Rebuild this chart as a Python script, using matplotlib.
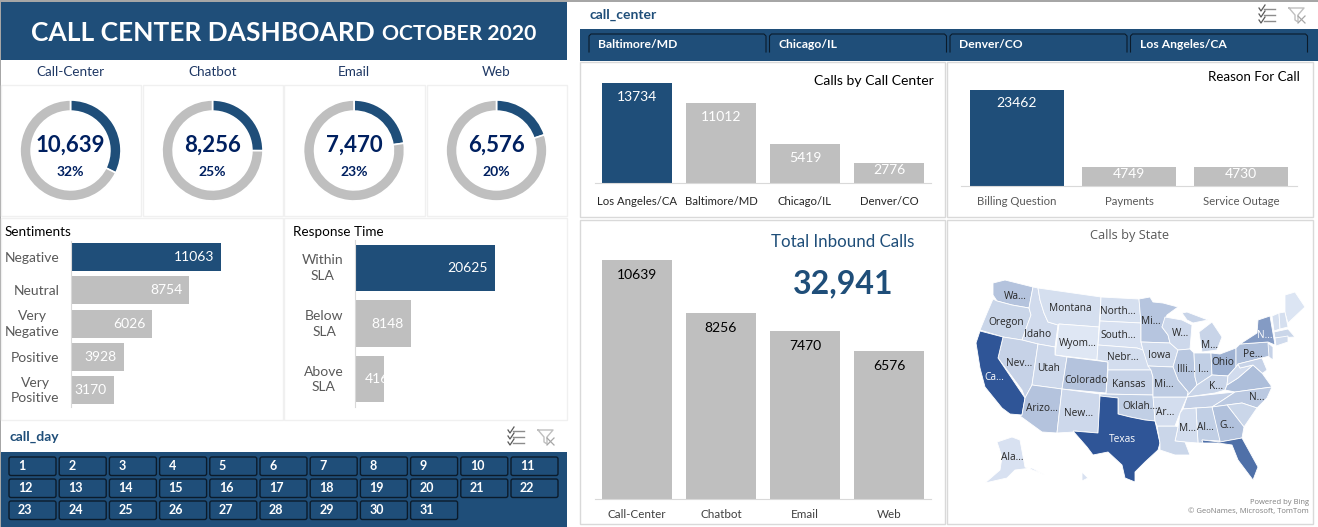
#!/usr/bin/env python3
# call center dashboard, october 2020

import matplotlib
matplotlib.use("Agg")
import matplotlib.pyplot as plt
from matplotlib.colors import LinearSegmentedColormap, Normalize
from matplotlib.patches import Rectangle, FancyBboxPatch
from matplotlib.transforms import ScaledTranslation

plt.rcParams['font.family'] = ['Lato', 'DejaVu Sans']

### data

channels = ["Call-Center", "Chatbot", "Email", "Web"]
channel_calls = [10639, 8256, 7470, 6576]
total_calls = sum(channel_calls)

sentiments = ["Negative", "Neutral", "Very\nNegative", "Positive", "Very\nPositive"]
sentiment_calls = [11063, 8754, 6026, 3928, 3170]

response = ["Within\nSLA", "Below\nSLA", "Above\nSLA"]
response_calls = [20625, 8148, 4168]

centers = ["Los Angeles/CA", "Baltimore/MD", "Chicago/IL", "Denver/CO"]
center_calls = [13734, 11012, 5419, 2776]

reasons = ["Billing Question", "Payments", "Service Outage"]
reason_calls = [23462, 4749, 4730]

slicer_centers = ["Baltimore/MD", "Chicago/IL", "Denver/CO", "Los Angeles/CA"]
days = list(range(1, 32))

# shade of each state
state_calls = {
    "WA": 1000, "OR": 500, "CA": 4000, "NV": 600, "ID": 350, "MT": 250, "WY": 40,
    "UT": 450, "CO": 1000, "AZ": 1000, "NM": 450, "ND": 250, "SD": 200, "NE": 300,
    "KS": 600, "OK": 700, "TX": 4000, "MN": 950, "IA": 400, "MO": 800, "AR": 300,
    "LA": 500, "WI": 450, "IL": 900, "IN": 700, "MI": 550, "UP": 550, "OH": 1450,
    "KY": 550, "TN": 650, "MS": 300, "AL": 700, "GA": 1050, "FL": 3280, "SC": 500,
    "NC": 850, "VA": 1150, "WV": 350, "PA": 1150, "NY": 2080, "ME": 100, "VT": 250,
    "NH": 250, "MA": 500, "CT": 400, "NJ": 600, "MD": 600, "AK": 200, "HI": 200,
}

# rough state outlines, same frame as the map axes
state_shapes = {
    "WA": [(993,283),(1005,280),(1033,287),(1029,308),(1012,305),(997,301),(993,295)],
    "OR": [(993,299),(997,301),(1012,305),(1029,308),(1031,315),(1022,340),(1003,337),(980,330),(987,313)],
    "ID": [(1033,287),(1038,288),(1040,300),(1044,313),(1048,322),(1058,325),(1055,347),(1038,344),(1022,340),(1031,315),(1029,308)],
    "MT": [(1038,288),(1101,297),(1099,327),(1059,324),(1058,325),(1048,322),(1044,313),(1040,300)],
    "WY": [(1059,324),(1099,327),(1097,360),(1055,355)],
    "NV": [(1003,337),(1022,340),(1038,344),(1032,385),(1025,398),(1022,390),(998,358)],
    "CA": [(980,331),(1003,337),(998,358),(1025,398),(1022,415),(1010,414),(1002,408),(985,387),(980,368),(976,343)],
    "UT": [(1038,344),(1055,347),(1055,355),(1067,357),(1062,389),(1032,385)],
    "CO": [(1067,357),(1108,362),(1106,393),(1062,389)],
    "AZ": [(1032,385),(1062,389),(1057,433),(1042,432),(1020,416),(1022,415),(1025,398)],
    "NM": [(1062,389),(1100,394),(1098,433),(1075,431),(1074,432),(1057,433)],
    "ND": [(1101,297),(1139,299),(1141,323),(1100,321)],
    "SD": [(1100,321),(1141,323),(1141,342),(1143,350),(1137,348),(1098,345)],
    "NE": [(1098,345),(1137,348),(1143,350),(1147,360),(1151,370),(1108,370),(1108,362),(1097,360)],
    "KS": [(1108,370),(1151,370),(1153,377),(1153,395),(1106,394)],
    "OK": [(1100,394),(1153,395),(1154,405),(1155,421),(1145,420),(1130,417),(1118,414),(1118,398),(1100,396)],
    "TX": [(1100,396),(1118,398),(1118,414),(1130,417),(1145,420),(1155,421),(1160,443),(1158,450),(1145,462),
           (1135,472),(1135,482),(1125,478),(1122,465),(1108,452),(1093,455),(1087,447),(1073,431),(1098,433)],
    "MN": [(1139,299),(1150,297),(1153,302),(1163,303),(1178,307),(1167,315),(1162,327),(1168,335),(1170,343),(1141,342),(1141,323)],
    "IA": [(1141,342),(1170,343),(1178,350),(1173,367),(1148,366),(1143,350)],
    "WI": [(1162,327),(1165,317),(1182,320),(1192,325),(1190,349),(1178,350),(1170,343),(1168,335)],
    "IL": [(1178,350),(1190,349),(1194,353),(1195,377),(1197,385),(1188,395),(1188,392),(1178,380),(1173,367)],
    "IN": [(1194,353),(1211,353),(1212,375),(1197,385),(1195,377)],
    "OH": [(1211,353),(1220,354),(1236,348),(1236,367),(1228,376),(1212,375)],
    "MI": [(1199,332),(1212,322),(1222,337),(1217,350),(1202,352)],
    "UP": [(1182,313),(1187,312),(1208,320),(1193,323),(1187,320)],
    "KY": [(1188,395),(1197,385),(1212,375),(1228,376),(1227,385),(1225,390),(1215,393),(1187,397)],
    "TN": [(1187,397),(1235,392),(1223,400),(1212,407),(1196,408),(1183,409)],
    "VA": [(1225,390),(1227,385),(1238,378),(1253,365),(1262,373),(1272,387),(1235,392)],
    "WV": [(1228,376),(1236,367),(1238,364),(1240,368),(1253,365),(1238,378),(1227,385)],
    "PA": [(1236,348),(1240,344),(1268,342),(1273,355),(1262,358),(1238,364),(1236,367)],
    "NY": [(1240,344),(1257,333),(1258,320),(1270,316),(1275,345),(1268,342)],
    "ME": [(1285,295),(1295,292),(1305,307),(1288,323),(1285,313)],
    "VT": [(1272,316),(1279,313),(1280,329),(1274,331)],
    "NH": [(1279,313),(1285,312),(1288,327),(1280,329)],
    "MA": [(1274,332),(1288,329),(1295,337),(1275,338)],
    "CT": [(1275,338),(1288,336),(1288,342),(1276,346)],
    "NJ": [(1268,343),(1273,347),(1273,360),(1269,357)],
    "MD": [(1238,364),(1262,358),(1267,370),(1263,373),(1262,373),(1253,365),(1240,368)],
    "NC": [(1223,400),(1235,392),(1272,387),(1267,398),(1257,408),(1242,403),(1227,405),(1212,407)],
    "SC": [(1227,405),(1242,403),(1257,408),(1244,427)],
    "GA": [(1212,407),(1227,405),(1244,427),(1242,438),(1220,442),(1219,440)],
    "AL": [(1196,408),(1212,407),(1220,441),(1202,440),(1203,443),(1198,443)],
    "MS": [(1180,413),(1183,409),(1196,408),(1198,443),(1185,442),(1175,441),(1178,427)],
    "LA": [(1157,426),(1175,426),(1178,427),(1175,441),(1185,442),(1190,455),(1175,455),(1160,450),(1160,443)],
    "AR": [(1153,397),(1187,397),(1180,413),(1175,426),(1157,426),(1155,421)],
    "MO": [(1148,366),(1173,367),(1178,380),(1188,392),(1187,397),(1153,397),(1153,377),(1151,370)],
    "FL": [(1202,440),(1220,442),(1242,438),(1258,467),(1253,480),(1238,460),(1232,445),(1218,443),(1203,443)],
    "AK": [(997,442),(1012,437),(1020,440),(1025,467),(1045,475),(1032,468),(1015,470),(1007,478),(985,483),(1000,470),(1002,457)],
    "HI": [(1082,472),(1088,478),(1082,481)],
}

state_labels = [
    ("Wa...", 1015, 296), ("Oregon", 1006, 322), ("Idaho", 1038, 334), ("Montana", 1070, 308),
    ("North...", 1118, 311), ("South...", 1118, 335), ("Wyom...", 1078, 343), ("Nebr...", 1123, 357),
    ("Nev...", 1019, 363), ("Utah", 1049, 368), ("Colorado", 1086, 380), ("Kansas", 1129, 384),
    ("Arizo...", 1042, 408), ("New...", 1079, 413), ("Oklah...", 1140, 406), ("Ala...", 1012, 457),
    ("Mi...", 1151, 321), ("W...", 1180, 333), ("M...", 1210, 345), ("Iowa", 1159, 355),
    ("Illi...", 1186, 369), ("I...", 1203, 369), ("Ohio", 1223, 362), ("Pe...", 1253, 354),
    ("Mi...", 1164, 384), ("K...", 1216, 386), ("N...", 1257, 397), ("Ar...", 1165, 412),
    ("M...", 1187, 428), ("Al...", 1205, 427), ("G...", 1227, 425),
]
state_labels_white = [("Ca...", 994, 377), ("Texas", 1122, 439), ("N...", 1265, 335)]

### style

BLUE = "#1F4E79"
GREY = "#BFBFBF"
NAVY = "#002060"
LINE = "#D9D9D9"
W, H = 1318, 527

fig = plt.figure(figsize=(W / 100, H / 100), dpi=100, facecolor="white")

# background layer in pixels, for frames, bands and free text
bg = fig.add_axes([0, 0, 1, 1])
bg.set_xlim(0, W)
bg.set_ylim(H, 0)
bg.axis("off")


def px_axes(x0, y0, x1, y1):
    ax = fig.add_axes([x0 / W, 1 - y1 / H, (x1 - x0) / W, (y1 - y0) / H])
    ax.patch.set_alpha(0)
    return ax


def box(x0, y0, x1, y1, fc="none", ec="none", lw=1.0):
    bg.add_patch(Rectangle((x0, y0), x1 - x0, y1 - y0, facecolor=fc, edgecolor=ec, linewidth=lw))


def icons(x, y):
    # select-all icon, then clear-filter icon
    for k, yy in enumerate([y - 6, y, y + 6]):
        bg.plot([x - 3, x + 8], [yy, yy], color="#8C8C8C", lw=1)
        bg.plot([x - 8, x - 6, x - 2], [yy - 1, yy + 2, yy - 4], color="#595959", lw=0.9)
    fx = x + 30
    bg.plot([fx - 8, fx + 7, fx + 1, fx + 1, fx - 2, fx - 2, fx - 8], [y - 7, y - 7, y, y + 7, y + 5, y, y - 7],
            color="#BFBFBF", lw=1)
    bg.plot([fx + 1, fx + 8], [y + 1, y + 8], color="#A6A6A6", lw=0.9)
    bg.plot([fx + 1, fx + 8], [y + 8, y + 1], color="#A6A6A6", lw=0.9)


def hbars(ax, labels, values, xmax, pad_px):
    pos = list(range(len(values)))
    colors = [BLUE] + [GREY] * (len(values) - 1)
    ax.barh(pos, values, height=0.84, color=colors)
    ax.set_ylim(len(values) - 0.5, -0.5)
    ax.set_xlim(0, xmax)
    ax.set_yticks(pos, labels, color="#595959", fontsize=10, linespacing=1.35, multialignment="center")
    ax.tick_params(axis="y", length=0, pad=pad_px * 0.72)
    ax.set_xticks([])
    for s in ["top", "right", "bottom"]:
        ax.spines[s].set_visible(False)
    ax.spines["left"].set_color(LINE)
    # two-line labels sit a little higher than the bar centre
    lift = ScaledTranslation(0, 2.5 / 100, fig.dpi_scale_trans)
    for lab in ax.get_yticklabels():
        if "\n" in lab.get_text():
            lab.set_transform(lab.get_transform() + lift)


def vbars(ax, labels, values, ymax, colors, label_color, label_px, tick_color, tick_size, tick_pad):
    pos = list(range(len(values)))
    ax.bar(pos, values, width=0.835, color=colors)
    ax.set_xlim(-0.5, len(values) - 0.5)
    ax.set_ylim(0, ymax)
    ax.set_xticks(pos, labels, color=tick_color, fontsize=tick_size)
    ax.tick_params(axis="x", length=0, pad=tick_pad)
    ax.set_yticks([])
    for s in ["top", "right", "left"]:
        ax.spines[s].set_visible(False)
    ax.spines["bottom"].set_color(LINE)
    axes_px = ax.get_position().height * H
    for p, v in zip(pos, values):
        # short bars push the label up against their top
        drop = min(label_px, 0.36 * v / ymax * axes_px)
        ax.annotate(str(v), (p, v), xytext=(0, -drop * 0.72), textcoords="offset points",
                    ha="center", va="center", color=label_color, fontsize=10)


### frames and header

box(0, 0, 1, H, fc="#A6A6A6")
box(0, 0, W, 1.5, fc="#A6A6A6")
box(1, 2, 567, 60, fc=BLUE)
bg.text(31, 33, "CALL CENTER DASHBOARD", color="white", fontsize=19, fontweight="bold", va="center")
bg.text(382, 34, "OCTOBER 2020", color="white", fontsize=15.2, fontweight="bold", va="center")

for x0, x1 in [(1, 141), (143, 283), (284, 425), (427, 567)]:
    box(x0, 85, x1, 216, ec="#F0F0F0")
box(1, 218, 283, 420, ec="#F0F0F0")
box(284, 218, 567, 420, ec="#F0F0F0")
box(580, 62, 945, 217, ec=LINE)
box(947, 62, 1313, 217, ec=LINE)
box(580, 220, 945, 524, ec=LINE)
box(947, 220, 1313, 524, ec=LINE)

### donuts

donut_x = [70.5, 212.5, 354, 496.5]
for name, calls, cx in zip(channels, channel_calls, donut_x):
    bg.text(cx, 71.5, name, color="#1F3864", fontsize=9.7, ha="center", va="center")
    ax = px_axes(cx - 51, 150.5 - 51, cx + 51, 150.5 + 51)
    ax.pie([calls, total_calls - calls], colors=[BLUE, GREY], startangle=90, counterclock=False,
           wedgeprops=dict(width=0.22, edgecolor="white", linewidth=1.2))
    ax.set_xlim(-1.01, 1.01)
    ax.set_ylim(-1.01, 1.01)
    bg.text(cx, 145.5, f"{calls:,}", color=NAVY, fontsize=16, fontweight="bold", ha="center", va="center")
    bg.text(cx, 172, f"{calls / total_calls:.0%}", color=NAVY, fontsize=10, fontweight="bold", ha="center", va="center")

### sentiments

bg.text(5, 231.5, "Sentiments", color="black", fontsize=9.7, va="center")
ax = px_axes(70.5, 240.5, 280, 406.8)
hbars(ax, sentiments, sentiment_calls, 15413, 11)
for i, v in enumerate(sentiment_calls):
    ax.annotate(str(v), (v, i), xytext=(-5, 0), textcoords="offset points", ha="right", va="center",
                color="white", fontsize=10)

### response time

bg.text(293, 231.5, "Response Time", color="black", fontsize=9.7, va="center")
ax = px_axes(355.5, 240.2, 565, 406.8)
hbars(ax, response, response_calls, 31000, 12)
for i, v in enumerate(response_calls):
    # the last label does not fit the bar and runs out on the white
    if i == 2:
        ax.annotate(str(v), (0, i), xytext=(6.5, 0), textcoords="offset points", ha="left", va="center",
                    color="white", fontsize=10)
    else:
        ax.annotate(str(v), (v, i), xytext=(-5, 0), textcoords="offset points", ha="right", va="center",
                    color="white", fontsize=10)

### call_day slicer

bg.text(9, 437, "call_day", color=BLUE, fontsize=10, fontweight="bold", va="center")
icons(516, 437)
box(1, 452, 567, H, fc=BLUE)
for d in days:
    row, col = (d - 1) // 11, (d - 1) % 11
    x0 = 9 + col * 50.2
    y0 = 457 + row * 22
    bg.add_patch(FancyBboxPatch((x0, y0), 47, 18.5, boxstyle="round,pad=0,rounding_size=2",
                                facecolor=BLUE, edgecolor="#0B1B2B", linewidth=1))
    bg.text(x0 + 9, y0 + 9.5, str(d), color="white", fontsize=9, fontweight="bold", va="center")

### call_center slicer

bg.text(589, 15, "call_center", color=BLUE, fontsize=10, fontweight="bold", va="center")
icons(1267, 15)
box(580, 29, W, 61, fc=BLUE)
for i, name in enumerate(slicer_centers):
    x0 = 589 + i * 180.5
    bg.plot([x0, x0, x0 + 2, x0 + 175, x0 + 177, x0 + 177], [52, 36, 34, 34, 36, 52], color="#0B1B2B", lw=0.8)
    bg.text(x0 + 9, 44, name, color="white", fontsize=8.7, fontweight="bold", va="center")

### calls by call center

ax = px_axes(595, 65, 931, 183)
vbars(ax, centers, center_calls, 16200, [BLUE, GREY, GREY, GREY], "white", 14, "#262626", 8.2, 9.5)
bg.text(933.5, 81, "Calls by Call Center", color="black", fontsize=10.1, ha="right", va="center")

### reason for call

ax = px_axes(961, 65, 1297, 186)
vbars(ax, reasons, reason_calls, 29570, [BLUE, GREY, GREY], "white", 13, "#595959", 8.2, 7.2)
bg.text(1300, 77, "Reason For Call", color="black", fontsize=9.6, ha="right", va="center")

### total inbound

ax = px_axes(595, 240, 931, 499)
vbars(ax, channels, channel_calls, 11526, [GREY] * 4, "black", 15, "#404040", 8.4, 7.5)
bg.text(914, 242, "Total Inbound Calls", color=BLUE, fontsize=12.2, ha="right", va="center")
bg.text(843, 284, f"{total_calls:,}", color=BLUE, fontsize=23, fontweight="bold", ha="center", va="center")

### map

bg.text(1130, 235.5, "Calls by State", color="#595959", fontsize=9.2, family=["Open Sans"], ha="center", va="center")
ax = px_axes(947, 260, 1313, 495)
ax.set_xlim(947, 1313)
ax.set_ylim(495, 260)
ax.axis("off")
shade = LinearSegmentedColormap.from_list("calls", ["#E0E8F5", "#2F5597"])
norm = Normalize(0, 4000)
for st, pts in state_shapes.items():
    ax.fill([p[0] for p in pts], [p[1] for p in pts], facecolor=shade(norm(state_calls[st])),
            edgecolor="white", linewidth=0.6)
for txt, x, y in state_labels:
    ax.text(x, y, txt, color="#262626", fontsize=7.3, family=["Open Sans"], ha="center", va="center")
for txt, x, y in state_labels_white:
    ax.text(x, y, txt, color="white", fontsize=7.3, family=["Open Sans"], ha="center", va="center")
bg.text(1309, 502, "Powered by Bing", color="#7F7F7F", fontsize=5.5, family=["Open Sans"], ha="right", va="center")
bg.text(1309, 512, "© GeoNames, Microsoft, TomTom", color="#7F7F7F", fontsize=5.5, family=["Open Sans"], ha="right", va="center")

fig.savefig("out.png", dpi=100)
